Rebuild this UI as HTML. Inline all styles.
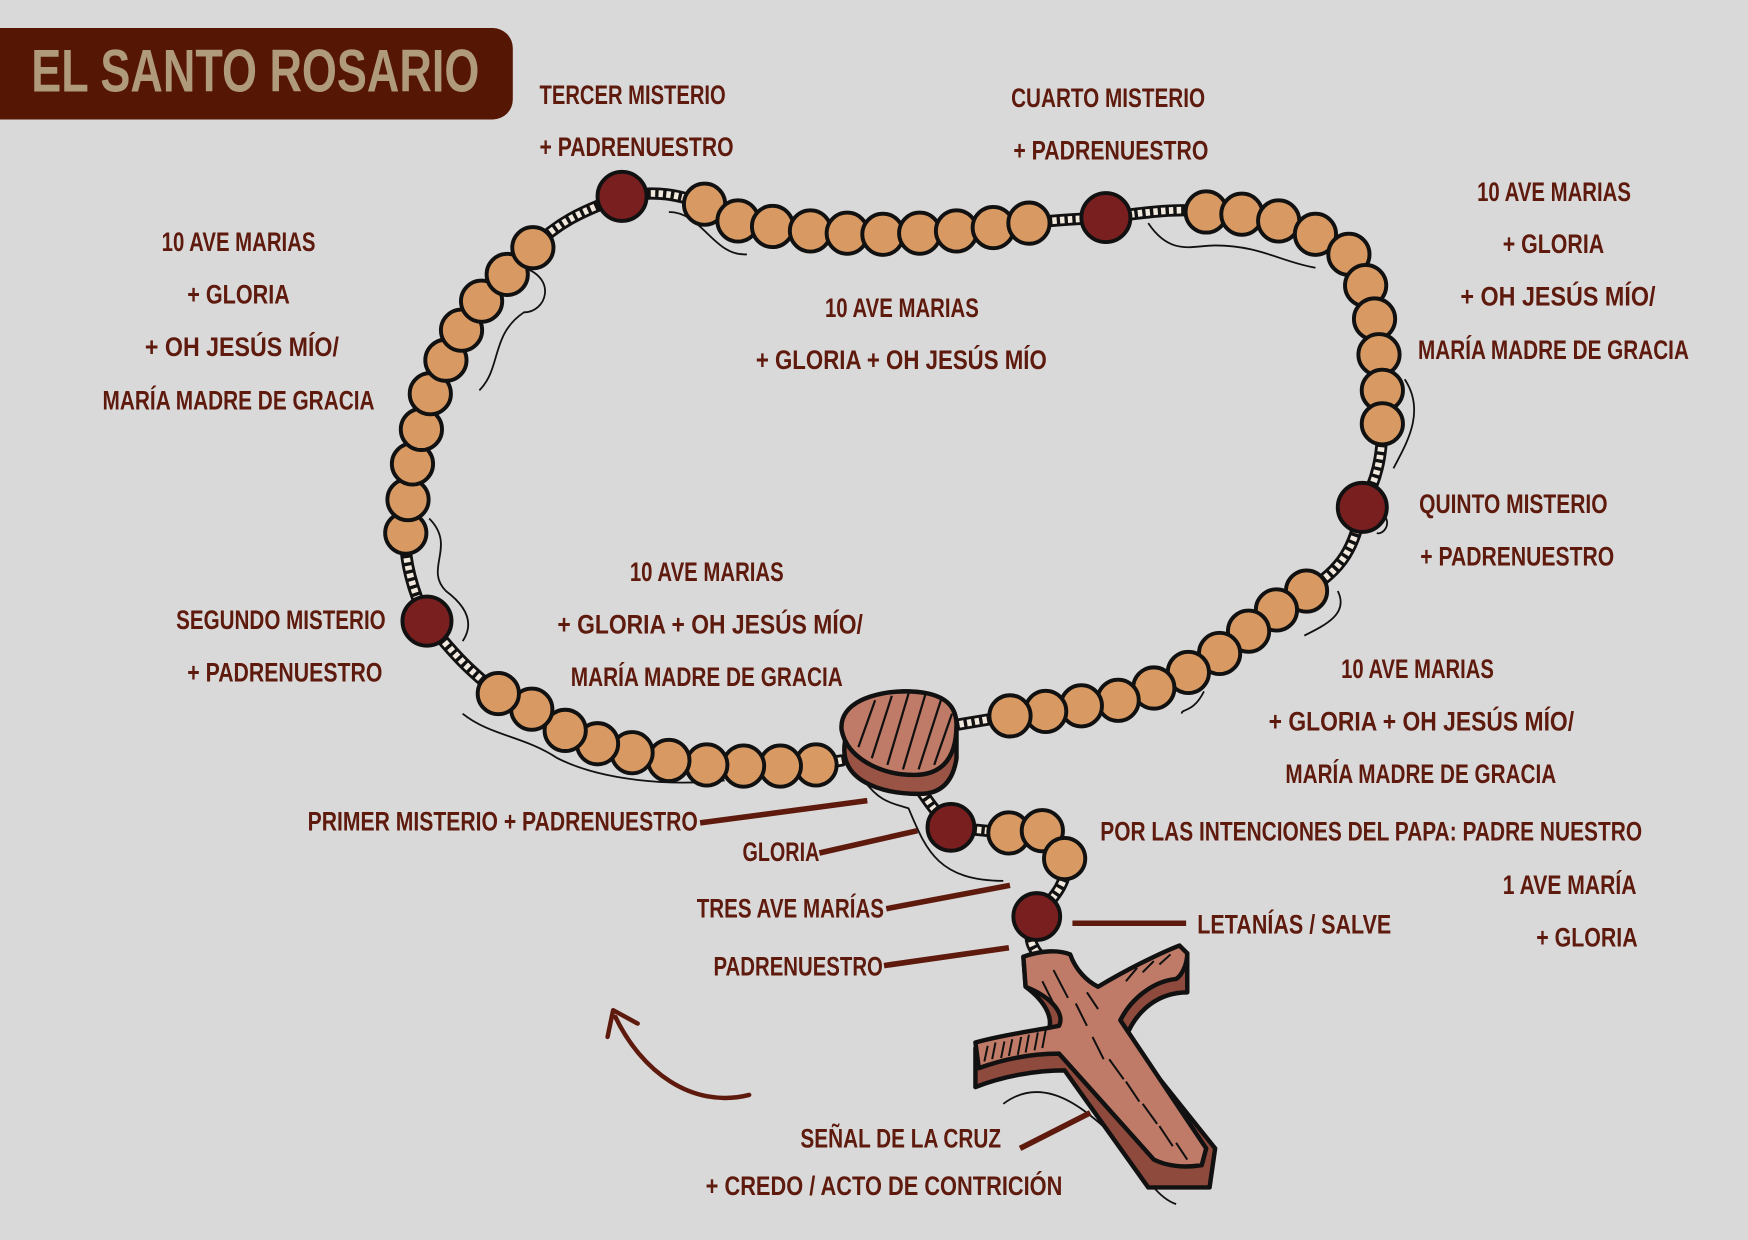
<!DOCTYPE html>
<html><head><meta charset="utf-8"><style>
html,body{margin:0;padding:0;background:#d9d9d9;}
svg{display:block;}
.t{font-family:"Liberation Sans Narrow","Liberation Sans",sans-serif;font-weight:bold;font-size:24px;fill:#5e1a0d;}
.b{fill:#d89a62;stroke:#111;stroke-width:3.5;r:18.5px;}
.p{fill:#7a1f1f;stroke:#111;stroke-width:3.5;}
.ln{stroke:#5e1a0d;stroke-width:5;}
.sq{fill:none;stroke:#111;stroke-width:1.6;}
</style></head><body>
<svg width="1748" height="1240" viewBox="0 0 1568 1112" xmlns="http://www.w3.org/2000/svg">
<rect width="1568" height="1112" fill="#d9d9d9"/>
<rect x="-20" y="25" width="480" height="82" rx="18" fill="#561604"/>
<text x="28" y="82" font-family="Liberation Sans Narrow,Liberation Sans,sans-serif" font-weight="bold" font-size="54" fill="#b09a7c" textLength="402" lengthAdjust="spacingAndGlyphs">EL SANTO ROSARIO</text>

<path class="sq" d="M600 190 C630 190,640 230,670 228"/>
<path class="sq" d="M1030 200 C1050 230,1070 220,1090 220 C1130 220,1150 235,1180 240"/>
<path class="sq" d="M470 240 C500 250,490 280,470 280 C440 300,450 330,430 350"/>
<path class="sq" d="M1260 340 C1280 370,1260 400,1250 420 M1240 460 C1250 470,1240 480,1235 478"/>
<path class="sq" d="M385 465 C410 490,380 510,400 530 C420 545,425 560,415 575"/>
<path class="sq" d="M415 640 C440 660,470 660,500 680 C540 700,600 705,650 700"/>
<path class="sq" d="M1200 530 C1210 550,1190 560,1170 570 M1080 620 C1070 640,1060 635,1060 640"/>
<path class="sq" d="M775 700 C790 720,800 720,815 725 C830 760,840 790,900 790"/>
<path class="sq" d="M900 990 C940 960,980 1000,1010 1030 C1030 1060,1040 1075,1055 1080"/>

<path d="M478 222 C500 200,520 190,558 176 C590 170,610 175,632 183 M923 200 C950 197,970 196,992 195 C1030 190,1060 186,1082 190 M1240 380 C1240 410,1235 430,1222 455 C1215 490,1205 510,1172 530 M906 642 L858 650 M755 682 L732 686 M447 622 C420 600,410 590,383 557 C370 530,362 500,364 478 M820 700 C830 715,840 730,853 742 L905 747 M955 770 C960 790,945 805,930 822 C920 840,925 850,935 860" fill="none" stroke="#111" stroke-width="11" stroke-linecap="round"/>
<path d="M478 222 C500 200,520 190,558 176 C590 170,610 175,632 183 M923 200 C950 197,970 196,992 195 C1030 190,1060 186,1082 190 M1240 380 C1240 410,1235 430,1222 455 C1215 490,1205 510,1172 530 M906 642 L858 650 M755 682 L732 686 M447 622 C420 600,410 590,383 557 C370 530,362 500,364 478 M820 700 C830 715,840 730,853 742 L905 747 M955 770 C960 790,945 805,930 822 C920 840,925 850,935 860" fill="none" stroke="#f1e8de" stroke-width="6" stroke-dasharray="4 3"/>

<g>
<circle class="b" cx="632" cy="183" r="18.5"/><circle class="b" cx="662" cy="198" r="18.5"/><circle class="b" cx="693" cy="203" r="18.5"/><circle class="b" cx="727" cy="207" r="18.5"/><circle class="b" cx="760" cy="209" r="18.5"/><circle class="b" cx="792" cy="210" r="18.5"/><circle class="b" cx="825" cy="209" r="18.5"/><circle class="b" cx="858" cy="207" r="18.5"/><circle class="b" cx="891" cy="204" r="18.5"/><circle class="b" cx="923" cy="200" r="18.5"/>
<circle class="b" cx="1082" cy="190" r="18.5"/><circle class="b" cx="1114" cy="192" r="18.5"/><circle class="b" cx="1147" cy="198" r="18.5"/><circle class="b" cx="1180" cy="210" r="18.5"/><circle class="b" cx="1210" cy="228" r="18.5"/><circle class="b" cx="1225" cy="256" r="18.5"/><circle class="b" cx="1233" cy="286" r="18.5"/><circle class="b" cx="1237" cy="318" r="18.5"/><circle class="b" cx="1240" cy="350" r="18.5"/><circle class="b" cx="1240" cy="380" r="18.5"/>
<circle class="b" cx="1172" cy="530" r="18.5"/><circle class="b" cx="1145" cy="547" r="18.5"/><circle class="b" cx="1120" cy="566" r="18.5"/><circle class="b" cx="1094" cy="586" r="18.5"/><circle class="b" cx="1066" cy="603" r="18.5"/><circle class="b" cx="1035" cy="617" r="18.5"/><circle class="b" cx="1003" cy="628" r="18.5"/><circle class="b" cx="970" cy="633" r="18.5"/><circle class="b" cx="938" cy="638" r="18.5"/><circle class="b" cx="906" cy="642" r="18.5"/>
<circle class="b" cx="732" cy="686" r="18.5"/><circle class="b" cx="700" cy="687" r="18.5"/><circle class="b" cx="667" cy="687" r="18.5"/><circle class="b" cx="634" cy="686" r="18.5"/><circle class="b" cx="600" cy="682" r="18.5"/><circle class="b" cx="567" cy="675" r="18.5"/><circle class="b" cx="536" cy="667" r="18.5"/><circle class="b" cx="507" cy="655" r="18.5"/><circle class="b" cx="477" cy="636" r="18.5"/><circle class="b" cx="447" cy="622" r="18.5"/>
<circle class="b" cx="364" cy="478" r="18.5"/><circle class="b" cx="366" cy="448" r="18.5"/><circle class="b" cx="370" cy="416" r="18.5"/><circle class="b" cx="378" cy="385" r="18.5"/><circle class="b" cx="386" cy="353" r="18.5"/><circle class="b" cx="400" cy="323" r="18.5"/><circle class="b" cx="414" cy="296" r="18.5"/><circle class="b" cx="432" cy="270" r="18.5"/><circle class="b" cx="455" cy="246" r="18.5"/><circle class="b" cx="478" cy="222" r="18.5"/>
<circle class="b" cx="905" cy="747" r="18.5"/><circle class="b" cx="935" cy="745" r="18.5"/><circle class="b" cx="955" cy="770" r="18.5"/>
<circle class="p" cx="558" cy="176" r="22"/><circle class="p" cx="992" cy="195" r="22"/><circle class="p" cx="1222" cy="455" r="22"/><circle class="p" cx="383" cy="557" r="22"/><circle class="p" cx="853" cy="742" r="21"/><circle class="p" cx="930" cy="822" r="21"/>
</g>

<path d="M758 665 C752 700,790 712,825 712 C845 712,855 700,858 680 L858 650 C850 625,830 620,810 620 C780 622,760 640,758 665Z" fill="#9a5445" stroke="#111" stroke-width="4"/>
<path d="M755 655 C752 630,785 620,812 620 C840 620,858 628,858 650 C858 680,845 695,820 695 C790 695,760 680,755 655Z" fill="#c07b68" stroke="#111" stroke-width="4"/>
<g stroke="#111" stroke-width="2"><line x1="770" y1="670" x2="785" y2="628"/><line x1="782" y1="680" x2="800" y2="624"/><line x1="796" y1="686" x2="815" y2="622"/><line x1="810" y1="690" x2="830" y2="623"/><line x1="824" y1="690" x2="844" y2="628"/><line x1="838" y1="686" x2="854" y2="640"/></g>

<path d="M875 940 L875 975 C900 965,930 960,955 960 L1030 1065 L1085 1065 L1090 1030 L1010 930 C1020 905,1040 890,1065 890 L1065 855 L990 895 C975 880,965 870,960 858 L918 858 L920 885 C940 900,945 915,940 925 C920 930,900 935,875 940Z" fill="#8e4a3c" stroke="#111" stroke-width="4" stroke-linejoin="round"/>
<path d="M875 935 C900 928,925 925,950 920 C955 910,945 895,920 885 L918 858 C935 852,950 852,960 856 C965 870,975 880,985 885 C1010 870,1040 855,1058 848 L1065 855 C1065 865,1060 875,1055 878 C1035 880,1015 895,1005 915 L1082 1030 L1078 1045 C1060 1048,1045 1045,1035 1040 L950 945 C925 945,900 950,878 958Z" fill="#c07b68" stroke="#111" stroke-width="4" stroke-linejoin="round"/>
<g stroke="#111" stroke-width="1.8"><line x1="890" y1="950" x2="893" y2="935"/><line x1="905" y1="947" x2="908" y2="932"/><line x1="920" y1="944" x2="923" y2="928"/><line x1="935" y1="940" x2="938" y2="924"/><line x1="935" y1="880" x2="945" y2="900"/><line x1="945" y1="870" x2="958" y2="895"/><line x1="965" y1="900" x2="975" y2="920"/><line x1="980" y1="930" x2="990" y2="950"/><line x1="995" y1="950" x2="1008" y2="968"/><line x1="1010" y1="970" x2="1022" y2="988"/><line x1="1025" y1="990" x2="1038" y2="1008"/><line x1="1040" y1="1010" x2="1052" y2="1028"/><line x1="1055" y1="1025" x2="1065" y2="1040"/><line x1="1010" y1="880" x2="1020" y2="868"/><line x1="1025" y1="872" x2="1035" y2="862"/><line x1="1040" y1="865" x2="1050" y2="856"/><line x1="975" y1="890" x2="985" y2="905"/><line x1="883" y1="952" x2="886" y2="938"/><line x1="898" y1="949" x2="901" y2="934"/><line x1="913" y1="946" x2="916" y2="930"/><line x1="928" y1="942" x2="931" y2="926"/></g>

<path d="M672 982 C620 995,575 960,552 912" fill="none" stroke="#5e1a0d" stroke-width="4" stroke-linecap="round"/>
<path d="M545 930 L550 906 L572 918" fill="none" stroke="#5e1a0d" stroke-width="4" stroke-linecap="round" stroke-linejoin="round"/>

<line class="ln" x1="628" y1="738" x2="778" y2="718"/>
<line class="ln" x1="735" y1="765" x2="823" y2="745"/>
<line class="ln" x1="795" y1="815" x2="906" y2="794"/>
<line class="ln" x1="793" y1="866" x2="905" y2="850"/>
<line class="ln" x1="962" y1="828" x2="1064" y2="828"/>
<line class="ln" x1="915" y1="1030" x2="978" y2="998"/>

<g class="t">
<text x="484" y="93" textLength="167" lengthAdjust="spacingAndGlyphs">TERCER MISTERIO</text>
<text x="484" y="140" textLength="174" lengthAdjust="spacingAndGlyphs">+ PADRENUESTRO</text>
<text x="907" y="96" textLength="174" lengthAdjust="spacingAndGlyphs">CUARTO MISTERIO</text>
<text x="909" y="143" textLength="175" lengthAdjust="spacingAndGlyphs">+ PADRENUESTRO</text>
<text x="145" y="225" textLength="138" lengthAdjust="spacingAndGlyphs">10 AVE MARIAS</text>
<text x="168" y="272" textLength="92" lengthAdjust="spacingAndGlyphs">+ GLORIA</text>
<text x="130" y="319" textLength="174" lengthAdjust="spacingAndGlyphs">+ OH JESÚS MÍO/</text>
<text x="92" y="367" textLength="244" lengthAdjust="spacingAndGlyphs">MARÍA MADRE DE GRACIA</text>
<text x="740" y="284" textLength="138" lengthAdjust="spacingAndGlyphs">10 AVE MARIAS</text>
<text x="678" y="331" textLength="261" lengthAdjust="spacingAndGlyphs">+ GLORIA + OH JESÚS MÍO</text>
<text x="1325" y="180" textLength="138" lengthAdjust="spacingAndGlyphs">10 AVE MARIAS</text>
<text x="1348" y="227" textLength="91" lengthAdjust="spacingAndGlyphs">+ GLORIA</text>
<text x="1310" y="274" textLength="175" lengthAdjust="spacingAndGlyphs">+ OH JESÚS MÍO/</text>
<text x="1272" y="322" textLength="243" lengthAdjust="spacingAndGlyphs">MARÍA MADRE DE GRACIA</text>
<text x="1273" y="460" textLength="169" lengthAdjust="spacingAndGlyphs">QUINTO MISTERIO</text>
<text x="1274" y="507" textLength="174" lengthAdjust="spacingAndGlyphs">+ PADRENUESTRO</text>
<text x="158" y="564" textLength="188" lengthAdjust="spacingAndGlyphs">SEGUNDO MISTERIO</text>
<text x="168" y="611" textLength="175" lengthAdjust="spacingAndGlyphs">+ PADRENUESTRO</text>
<text x="565" y="521" textLength="138" lengthAdjust="spacingAndGlyphs">10 AVE MARIAS</text>
<text x="500" y="568" textLength="274" lengthAdjust="spacingAndGlyphs">+ GLORIA + OH JESÚS MÍO/</text>
<text x="512" y="615" textLength="244" lengthAdjust="spacingAndGlyphs">MARÍA MADRE DE GRACIA</text>
<text x="1203" y="608" textLength="137" lengthAdjust="spacingAndGlyphs">10 AVE MARIAS</text>
<text x="1138" y="655" textLength="274" lengthAdjust="spacingAndGlyphs">+ GLORIA + OH JESÚS MÍO/</text>
<text x="1153" y="702" textLength="243" lengthAdjust="spacingAndGlyphs">MARÍA MADRE DE GRACIA</text>
<text x="276" y="745" textLength="350" lengthAdjust="spacingAndGlyphs">PRIMER MISTERIO + PADRENUESTRO</text>
<text x="666" y="772" textLength="69" lengthAdjust="spacingAndGlyphs">GLORIA</text>
<text x="625" y="823" textLength="168" lengthAdjust="spacingAndGlyphs">TRES AVE MARÍAS</text>
<text x="640" y="875" textLength="152" lengthAdjust="spacingAndGlyphs">PADRENUESTRO</text>
<text x="1074" y="837" textLength="174" lengthAdjust="spacingAndGlyphs">LETANÍAS / SALVE</text>
<text x="987" y="754" textLength="486" lengthAdjust="spacingAndGlyphs">POR LAS INTENCIONES DEL PAPA: PADRE NUESTRO</text>
<text x="1348" y="802" textLength="120" lengthAdjust="spacingAndGlyphs">1 AVE MARÍA</text>
<text x="1378" y="849" textLength="91" lengthAdjust="spacingAndGlyphs">+ GLORIA</text>
<text x="718" y="1029" textLength="180" lengthAdjust="spacingAndGlyphs">SEÑAL DE LA CRUZ</text>
<text x="633" y="1072" textLength="320" lengthAdjust="spacingAndGlyphs">+ CREDO / ACTO DE CONTRICIÓN</text>
</g>
</svg>
</body></html>
